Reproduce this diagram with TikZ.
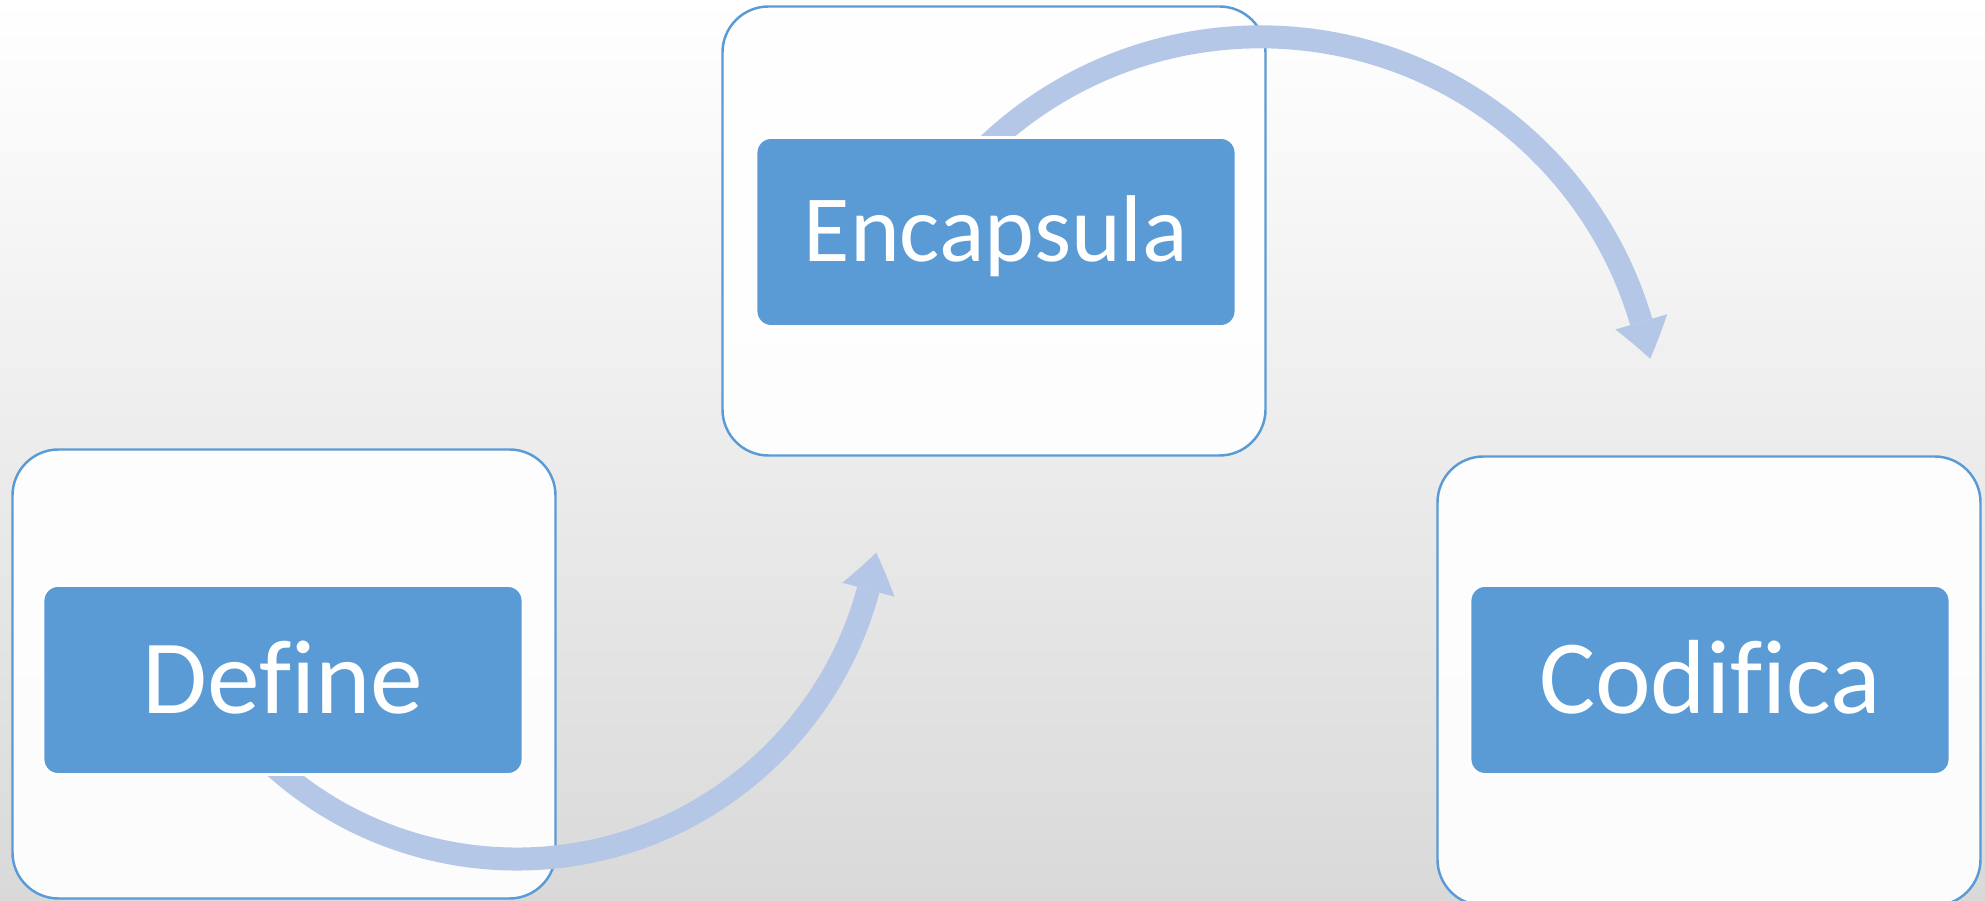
\documentclass[tikz,border=0pt]{standalone}
\usepackage{fontspec}
\setmainfont{Carlito}[Ligatures=NoCommon]
\usepackage{xcolor}
\usepackage{tikz}
\usetikzlibrary{arrows.meta, bending, positioning}

\definecolor{boxblue}{HTML}{5B9BD5}
\definecolor{flowblue}{HTML}{B4C7E7}
\definecolor{bgmid}{HTML}{F5F5F5}
\definecolor{bggray}{HTML}{D9D9D9}

\pgfdeclarelayer{back}
\pgfdeclarelayer{mid}
\pgfsetlayers{back,mid,main}

\begin{document}
\begin{tikzpicture}[
  frame node/.style={rectangle,rounded corners=0.46cm,draw=boxblue,line width=0.7pt,
    fill=white,fill opacity=0.93,minimum width=5.43cm,minimum height=4.49cm,inner sep=0pt},
  main node/.style={rectangle,rounded corners=0.15cm,fill=boxblue,draw=white,line width=0.8pt,
    minimum width=4.8cm,minimum height=1.89cm,inner sep=0pt,text=white,
    text height=19pt,text depth=0pt,font=\fontsize{30}{36}\selectfont},
  flow/.style={draw=flowblue,line width=0.23cm,
    -{Triangle[length=0.38cm,width=0.54cm,line width=0pt,bend]}}]

  \useasboundingbox (0,0) rectangle (19.85,9.01);

  \begin{pgfonlayer}{back}
    \shade[top color=white,middle color=bgmid,bottom color=bggray] (0,0) rectangle (19.85,9.01);
    \node[frame node] (f1) at (2.84,2.27) {};
    \node[frame node] (f2) at (9.94,6.70) {};
    \node[frame node] (f3) at (17.09,2.20) {};
  \end{pgfonlayer}

  \node[main node] (1) at (2.83,2.21) {Define};
  \node[main node,text height=17pt,font=\fontsize{27}{32}\selectfont] (2) at (9.96,6.69) {Encapsula};
  \node[main node] (3) at (17.10,2.21) {Codifica};

  % bent arrows, tucked under the blue boxes
  \begin{pgfonlayer}{mid}
    \draw[flow] ([shift={(-0.28,0.28)}]1.south) arc[start angle=224,end angle=350.9,radius=3.64];
    \draw[flow] ([shift={(-0.26,-0.27)}]2.north) arc[start angle=137,end angle=10.9,radius=3.97];
  \end{pgfonlayer}
\end{tikzpicture}
\end{document}
